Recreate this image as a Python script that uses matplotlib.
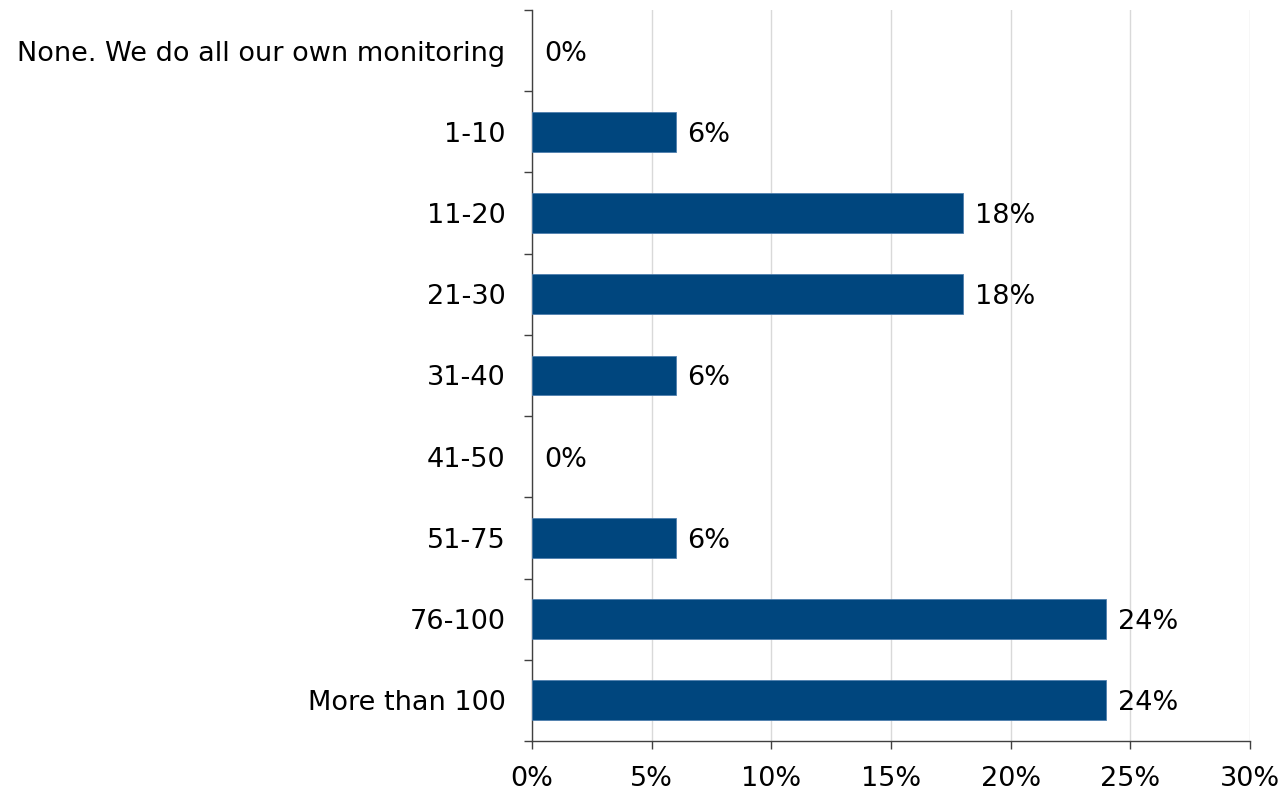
import matplotlib.pyplot as plt
import numpy as np

categories = ["None. We do all our own monitoring", "1-10", "11-20", "21-30", "31-40",
              "41-50", "51-75", "76-100", "More than 100"]
values = [0, 6, 18, 18, 6, 0, 6, 24, 24]
xticks = [0, 5, 10, 15, 20, 25, 30]

bar_color = "#00467e"
fs = 19.5

fig = plt.figure(figsize=(12.83, 7.93), dpi=100)
ax = fig.add_axes([532 / 1283, 52 / 793, 718 / 1283, 731 / 793])

y = np.arange(len(categories))
# no outline on empty bars, otherwise a thin sliver shows at 0
edge_w = [0.6 if v > 0 else 0 for v in values]
ax.barh(y, values, height=0.49, color=bar_color, edgecolor="#4f7fae", linewidth=edge_w, zorder=3)

for yi, v in zip(y, values):
    ax.text(v + 0.5, yi, f"{v}%", va="center_baseline", ha="left", fontsize=fs, color="black")

ax.set_ylim(len(categories) - 0.5, -0.5)
ax.set_xlim(0, 30)

ax.set_yticks(y)
ax.set_yticklabels(categories, fontsize=fs)
ax.set_yticks(np.arange(-0.5, len(categories) + 0.5, 1), minor=True)
ax.tick_params(axis="y", which="major", length=0, pad=19)
ax.tick_params(axis="y", which="minor", length=6, width=1, color="#404040")

ax.set_xticks(xticks)
ax.set_xticklabels([f"{t}%" for t in xticks], fontsize=fs)
ax.tick_params(axis="x", which="major", length=6, width=1, color="#404040", pad=12)

ax.grid(axis="x", color="#d9d9d9", linewidth=1, zorder=0)
ax.set_axisbelow(True)

for s in ["top", "right"]:
    ax.spines[s].set_visible(False)
for s in ["left", "bottom"]:
    ax.spines[s].set_color("#404040")
    ax.spines[s].set_linewidth(1)

fig.savefig("out.png", dpi=100)
